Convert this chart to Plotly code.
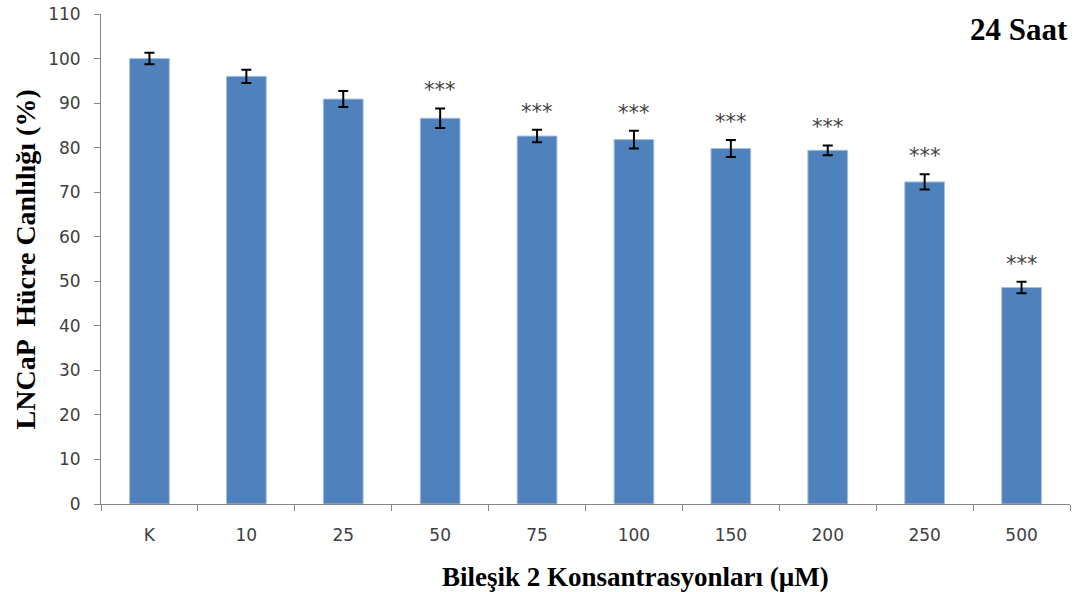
import plotly.graph_objects as go

# LNCaP viability after 24 h exposure to compound 2
categories = ["K", "10", "25", "50", "75", "100", "150", "200", "250", "500"]
viability = [100.0, 96.0, 90.9, 86.6, 82.6, 81.8, 79.8, 79.4, 72.3, 48.6]
std_err = [1.3, 1.5, 1.8, 2.2, 1.4, 2.0, 1.9, 1.1, 1.7, 1.3]
significance = ["", "", "", "***", "***", "***", "***", "***", "***", "***"]

serif = "Liberation Serif, Times New Roman, serif"
sans = "DejaVu Sans, Verdana, sans-serif"

fig = go.Figure()
fig.add_trace(go.Bar(
    x=categories,
    y=viability,
    marker=dict(color="#4F81BD", line=dict(color="#A7BFDE", width=1)),
    error_y=dict(type="data", array=std_err, visible=True,
                 color="black", thickness=2, width=5),
))

# significance markers above the error bars (category index as x position)
for i, (v, e, s) in enumerate(zip(viability, std_err, significance)):
    if s:
        fig.add_annotation(x=i, y=v + e, text=s, showarrow=False,
                           yanchor="bottom", yshift=4,
                           font=dict(family=sans, size=21, color="#404040"))

fig.add_annotation(xref="paper", yref="paper", x=1.0, y=0.968,
                   xanchor="right", yanchor="middle", text="<b>24 Saat</b>",
                   showarrow=False, font=dict(family=serif, size=31, color="black"))

# axis titles
fig.add_annotation(xref="paper", yref="paper", x=0.552, y=-0.148,
                   xanchor="center", yanchor="middle",
                   text="<b>Bileşik 2 Konsantrasyonları (µM)</b>",
                   showarrow=False, font=dict(family=serif, size=27, color="black"))
fig.add_annotation(xref="paper", yref="paper", x=-0.078, y=0.5,
                   xanchor="center", yanchor="middle", textangle=-90,
                   text="<b>LNCaP  Hücre Canlılığı (%)</b>",
                   showarrow=False, font=dict(family=serif, size=28, color="black"))

fig.update_layout(
    width=1092, height=592,
    margin=dict(l=101, r=22, t=14, b=88),
    plot_bgcolor="white", paper_bgcolor="white",
    showlegend=False,
    bargap=0.59,
    xaxis=dict(
        type="category", tickson="boundaries", automargin=False,
        ticks="outside", ticklen=6, tickcolor="#868686",
        showline=True, linecolor="#868686", linewidth=1,
        tickfont=dict(family=sans, size=17, color="#404040"),
        ticklabelstandoff=16,
        showgrid=False,
    ),
    yaxis=dict(
        range=[0, 110], dtick=10, tick0=0, automargin=False,
        ticks="outside", ticklen=6, tickcolor="#868686",
        showline=True, linecolor="#868686", linewidth=1,
        tickfont=dict(family=sans, size=17, color="#404040"),
        ticklabelstandoff=10,
        showgrid=False, zeroline=False,
    ),
)

fig.write_html("out.html")
